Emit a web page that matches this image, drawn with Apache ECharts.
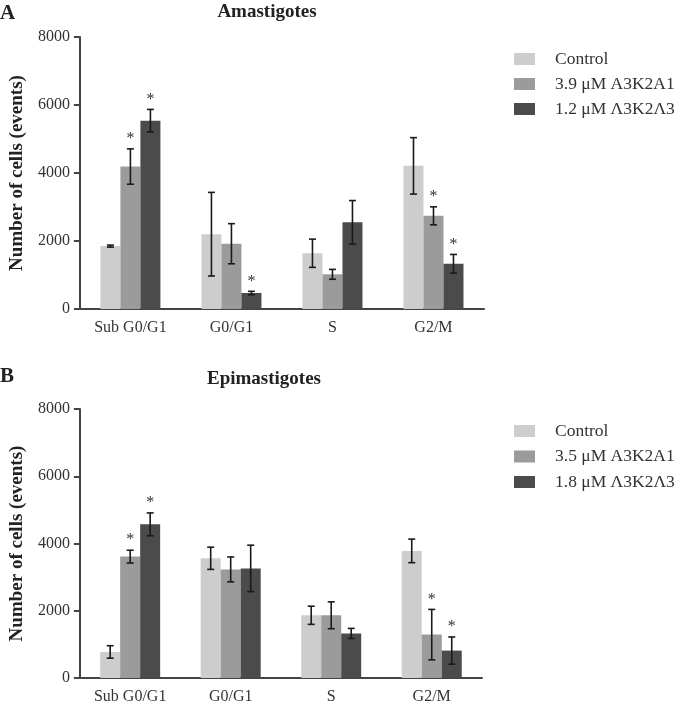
<!DOCTYPE html>
<html><head><meta charset="utf-8">
<script src="https://cdn.jsdelivr.net/npm/echarts@6/dist/echarts.min.js"></script>
<style>html,body{margin:0;padding:0;background:#fff}#c{width:680px;height:705px}</style>
</head><body><div id="c"></div>
<script>
const categories = ['Sub G0/G1', 'G0/G1', 'S', 'G2/M'];
const yTicks = [0, 2000, 4000, 6000, 8000];

// Panel A – Amastigotes
const namesA = ['Control', '3.9 μM A3K2A1', '1.2 μM Λ3K2Λ3'];
const ctrlA = [1850, 2200, 1640, 4210];
const ctrlAErr = [30, 1230, 415, 830];
const a1A = [4190, 1920, 1020, 2740];
const a1AErr = [520, 590, 145, 265];
const a3A = [5540, 470, 2550, 1330];
const a3AErr = [330, 50, 640, 275];
const sigCtrlA = [0, 0, 0, 0];
const sigA1A = [1, 0, 0, 1];
const sigA3A = [1, 1, 0, 1];

// Panel B – Epimastigotes
const namesB = ['Control', '3.5 μM A3K2A1', '1.8 μM Λ3K2Λ3'];
const ctrlB = [775, 3560, 1865, 3780];
const ctrlBErr = [185, 330, 270, 350];
const a1B = [3610, 3230, 1865, 1290];
const a1BErr = [190, 370, 400, 750];
const a3B = [4570, 3260, 1325, 815];
const a3BErr = [340, 690, 150, 405];
const sigCtrlB = [0, 0, 0, 0];
const sigA1B = [1, 0, 0, 1];
const sigA3B = [1, 0, 0, 1];

const colors = ['#cdcdcd', '#9b9b9b', '#4b4b4b'];
const serif = "'Liberation Serif', 'DejaVu Serif', serif";
const BAR_W = 20;

const chart = echarts.init(document.getElementById('c'));

function errSeries(panel, idx, means, errs, sig) {
  return {
    type: 'custom', xAxisIndex: panel, yAxisIndex: panel, z: 5, silent: true,
    data: means.map((m, i) => [i, m, errs[i], sig[i]]),
    renderItem: function (params, api) {
      const i = api.value(0), m = api.value(1), e = api.value(2), s = api.value(3);
      const c = api.coord([i, m]);
      const x = c[0] + (idx - 1) * BAR_W;
      const top = api.coord([i, m + e])[1];
      const bot = api.coord([i, m - e])[1];
      const cap = 3.5;
      const st = { stroke: '#1a1a1a', lineWidth: 1.6 };
      const children = [
        { type: 'line', shape: { x1: x, y1: top, x2: x, y2: bot }, style: st },
        { type: 'line', shape: { x1: x - cap, y1: top, x2: x + cap, y2: top }, style: st },
        { type: 'line', shape: { x1: x - cap, y1: bot, x2: x + cap, y2: bot }, style: st }
      ];
      if (s) {
        children.push({ type: 'text', style: { x: x, y: top - 2, text: '*', textAlign: 'center', textVerticalAlign: 'bottom', font: '16px ' + serif, fill: '#333' } });
      }
      return { type: 'group', children: children };
    }
  };
}

function barSeries(panel, idx, name, data) {
  return { type: 'bar', name: name, xAxisIndex: panel, yAxisIndex: panel, data: data,
    barWidth: BAR_W, barGap: '0%', itemStyle: { color: colors[idx] } };
}

function xAx(gi) {
  return { type: 'category', gridIndex: gi, data: categories,
    axisLine: { lineStyle: { color: '#444', width: 2 } },
    axisTick: { alignWithLabel: true, length: 6, lineStyle: { color: '#444', width: 2 } },
    axisLabel: { fontFamily: serif, fontSize: 16, color: '#333', margin: 11 } };
}
function yAx(gi, gap) {
  return { type: 'value', gridIndex: gi, min: yTicks[0], max: yTicks[yTicks.length - 1], interval: 2000,
    name: 'Number of cells (events)', nameLocation: 'middle', nameGap: gap,
    nameTextStyle: { fontFamily: serif, fontSize: 19, fontWeight: 'bold', color: '#222' },
    axisLine: { show: true, lineStyle: { color: '#444', width: 2 } },
    axisTick: { show: true, length: 6, lineStyle: { color: '#444', width: 2 } },
    axisLabel: { fontFamily: serif, fontSize: 16, color: '#333', margin: 10, formatter: v => String(v) },
    splitLine: { show: false } };
}
function leg(names, top, gap) {
  return { orient: 'vertical', left: 509, top: top, data: names, icon: 'rect',
    itemWidth: 21, itemHeight: 12, itemGap: gap, selectedMode: false,
    textStyle: { fontFamily: serif, fontSize: 17.5, lineHeight: 18, color: '#333', padding: [0, 0, 0, 15] } };
}

chart.setOption({
  animation: false,
  grid: [
    { left: 78, right: 196, top: 37, bottom: 396 },
    { left: 72, right: 198, top: 409, bottom: 24 }
  ],
  xAxis: [xAx(0), xAx(1)],
  yAxis: [yAx(0, 50), yAx(1, 49)],
  legend: [leg(namesA, 45, 7), leg(namesB, 417, 7.5)],
  graphic: [
    { type: 'text', left: 0, top: 3, style: { text: 'A', font: 'bold 21px ' + serif, fill: '#222' } },
    { type: 'text', x: 267, y: 3, style: { text: 'Amastigotes', textAlign: 'center', font: 'bold 19px ' + serif, fill: '#222' } },
    { type: 'text', left: 0, top: 366, style: { text: 'B', font: 'bold 21px ' + serif, fill: '#222' } },
    { type: 'text', x: 264, y: 370, style: { text: 'Epimastigotes', textAlign: 'center', font: 'bold 19px ' + serif, fill: '#222' } }
  ],
  series: [
    barSeries(0, 0, namesA[0], ctrlA), barSeries(0, 1, namesA[1], a1A), barSeries(0, 2, namesA[2], a3A),
    errSeries(0, 0, ctrlA, ctrlAErr, sigCtrlA), errSeries(0, 1, a1A, a1AErr, sigA1A), errSeries(0, 2, a3A, a3AErr, sigA3A),
    barSeries(1, 0, namesB[0], ctrlB), barSeries(1, 1, namesB[1], a1B), barSeries(1, 2, namesB[2], a3B),
    errSeries(1, 0, ctrlB, ctrlBErr, sigCtrlB), errSeries(1, 1, a1B, a1BErr, sigA1B), errSeries(1, 2, a3B, a3BErr, sigA3B)
  ]
});
</script></body></html>
